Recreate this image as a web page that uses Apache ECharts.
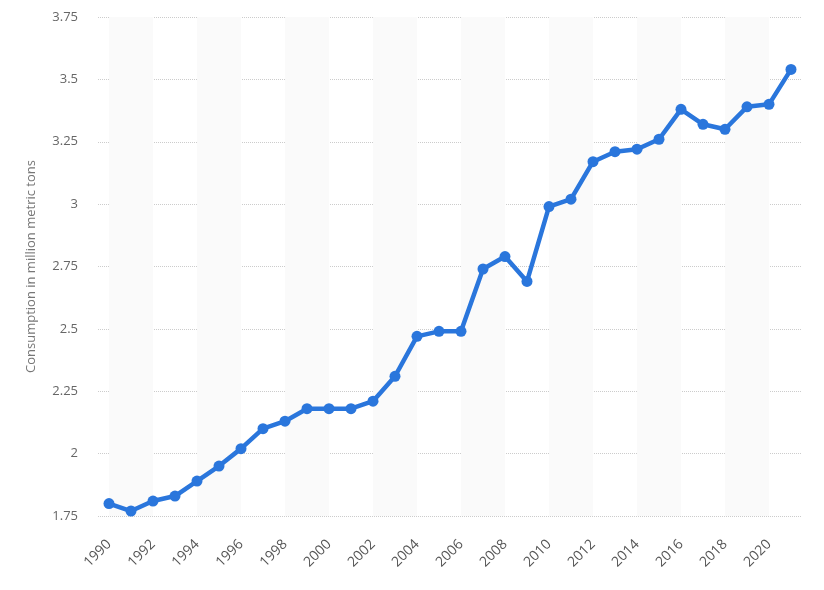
<!DOCTYPE html>
<html>
<head>
<meta charset="utf-8">
<script src="https://cdn.jsdelivr.net/npm/echarts@6/dist/echarts.min.js"></script>
<style>
  html, body { margin: 0; padding: 0; background: #fff; }
  #chart { width: 824px; height: 590px; }
</style>
</head>
<body>
<div id="chart"></div>
<script>
// years on the x axis
const years = ["1990", "1991", "1992", "1993", "1994", "1995", "1996", "1997", "1998", "1999",
  "2000", "2001", "2002", "2003", "2004", "2005", "2006", "2007", "2008", "2009",
  "2010", "2011", "2012", "2013", "2014", "2015", "2016", "2017", "2018", "2019",
  "2020", "2021"]

// consumption in million metric tons
const consumption = [1.80, 1.77, 1.81, 1.83, 1.89, 1.95, 2.02, 2.10, 2.13, 2.18,
  2.18, 2.18, 2.21, 2.31, 2.47, 2.49, 2.49, 2.74, 2.79, 2.69,
  2.99, 3.02, 3.17, 3.21, 3.22, 3.26, 3.38, 3.32, 3.30, 3.39,
  3.40, 3.54]

// shaded background bands (from year, to year)
const bands = [["1990", "1992"], ["1994", "1996"], ["1998", "2000"], ["2002", "2004"],
  ["2006", "2008"], ["2010", "2012"], ["2014", "2016"], ["2018", "2020"]]

let myChart = echarts.init(document.getElementById("chart"))

let options = {
  animation: false,
  textStyle: { fontFamily: "Open Sans" },
  grid: { left: 98, right: 22, top: 17, bottom: 74 },
  xAxis: {
    type: "category",
    data: years,
    boundaryGap: true,
    axisLine: { show: false },
    axisTick: { show: false },
    axisLabel: {
      interval: 1,
      rotate: 45,
      color: "#555",
      fontSize: 14,
      margin: 26
    }
  },
  yAxis: {
    type: "value",
    min: 1.75,
    max: 3.75,
    interval: 0.25,
    name: "Consumption in million metric tons",
    nameLocation: "middle",
    nameGap: 60,
    nameTextStyle: { color: "#777", fontSize: 13 },
    axisLine: { show: false },
    axisTick: { show: false },
    axisLabel: { color: "#666", fontSize: 13, margin: 20 },
    splitLine: { lineStyle: { color: "#ccc", type: "dotted", width: 1 } }
  },
  series: [{
    type: "line",
    data: consumption,
    symbol: "circle",
    symbolSize: 11,
    lineStyle: { color: "#2a76dc", width: 4.5 },
    itemStyle: { color: "#2a76dc" },
    z: 3,
    markArea: {
      silent: true,
      itemStyle: { color: "#fafafa" },
      data: bands.map(b => [{ xAxis: b[0], yAxis: 1.75 }, { xAxis: b[1], yAxis: 3.75 }])
    }
  }]
}
myChart.setOption(options)
</script>
</body>
</html>
